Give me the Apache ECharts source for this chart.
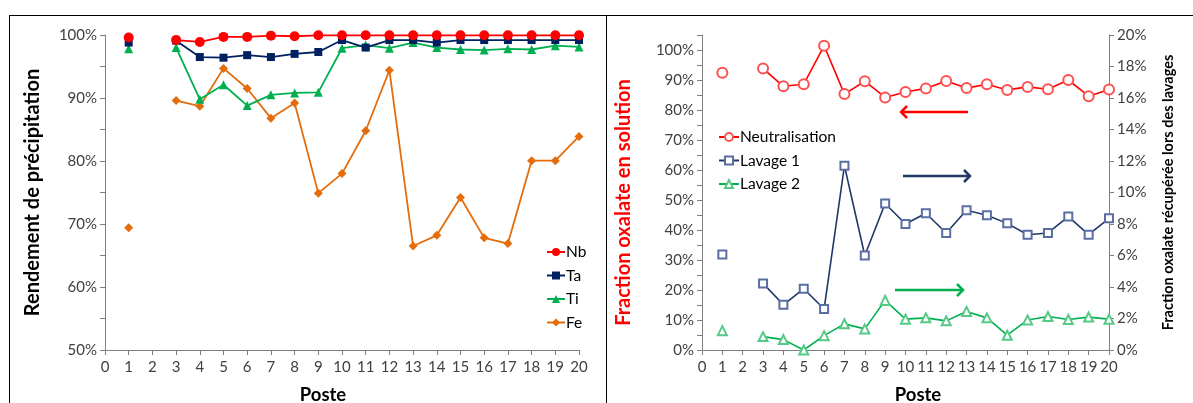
<!DOCTYPE html>
<html>
<head>
<meta charset="utf-8">
<script src="https://cdn.jsdelivr.net/npm/echarts@6/dist/echarts.min.js"></script>
<style>
html,body{margin:0;padding:0;background:#fff;}
#c{width:1193px;height:403px;}
</style>
</head>
<body>
<div id="c"></div>
<script>
const postes = [1,2,3,4,5,6,7,8,9,10,11,12,13,14,15,16,17,18,19,20];
const nb = [99.6, null, 99.2, 98.9, 99.7, 99.7, 99.9, 99.8, 99.95, 99.95, 99.95, 99.95, 99.95, 99.95, 99.95, 99.95, 99.95, 99.95, 99.95, 99.95];
const ta = [98.8, null, 99.1, 96.5, 96.4, 96.8, 96.5, 97.0, 97.3, 99.2, 98.0, 99.2, 99.2, 98.8, 99.2, 99.2, 99.2, 99.2, 99.2, 99.2];
const ti = [97.8, null, 98.0, 89.8, 92.1, 88.8, 90.5, 90.8, 90.9, 97.9, 98.4, 97.9, 98.8, 98.0, 97.7, 97.6, 97.8, 97.7, 98.3, 98.1];
const fe = [69.4, null, 89.6, 88.7, 94.7, 91.5, 86.8, 89.2, 74.9, 78.0, 84.8, 94.4, 66.5, 68.2, 74.2, 67.8, 66.9, 80.05, 80.05, 83.9];
const neutralisation = [92.4, null, 93.8, 87.9, 88.6, 101.4, 85.3, 89.6, 84.2, 86.0, 87.2, 89.7, 87.3, 88.6, 86.7, 87.7, 86.9, 90.0, 84.6, 86.8];
const lavage1 = [6.06, null, 4.23, 2.87, 3.89, 2.60, 11.7, 6.0, 9.3, 8.0, 8.68, 7.43, 8.87, 8.55, 8.04, 7.32, 7.43, 8.47, 7.32, 8.36];
const lavage2 = [1.23, null, 0.85, 0.66, 0, 0.91, 1.66, 1.34, 3.15, 1.96, 2.04, 1.85, 2.45, 2.04, 0.94, 1.91, 2.13, 1.94, 2.09, 1.96];

const FONT = 'Lato';
const TXT = '#404040';
const AX = '#7f7f7f';

function pairs(arr){ return postes.map((p,i)=>[p, arr[i]===null ? '-' : arr[i]]); }

const axisLine = {show:true, lineStyle:{color:AX, width:1}};
const axisTick = {show:true, inside:false, length:5, lineStyle:{color:AX}};
const lbl = {color:TXT, fontFamily:FONT, fontSize:15};

function xAx(gi, padding){
  return {
    type:'value', gridIndex:gi, min:0, max:20, interval:1,
    axisLine, axisTick, splitLine:{show:false},
    axisLabel:Object.assign({margin:10}, lbl),
    name:'Poste', nameLocation:'middle', nameGap:36,
    nameTextStyle:{color:'#000', fontFamily:FONT, fontSize:18.5, fontWeight:'bold', padding:padding}
  };
}

const chart = echarts.init(document.getElementById('c'), null, {renderer:'canvas'});
const option = {
  backgroundColor:'#fff',
  animation:false,
  grid:[
    {left:105, right:614, top:35, bottom:53, outerBoundsMode:'none', containLabel:false},
    {left:702, right:84, top:35, bottom:53, outerBoundsMode:'none', containLabel:false}
  ],
  xAxis:[ xAx(0,[0,38,0,0]), xAx(1,[0,0,0,25]) ],
  yAxis:[
    {
      type:'value', gridIndex:0, min:50, max:100, interval:5,
      axisLine, axisTick, splitLine:{show:false},
      axisLabel:Object.assign({margin:8, formatter:v => (v%10===0 ? v+'%' : '')}, lbl),
      name:'Rendement de précipitation', nameLocation:'middle', nameGap:62,
      nameTextStyle:{color:'#000', fontFamily:FONT, fontSize:20, fontWeight:'bold'}
    },
    {
      type:'value', gridIndex:1, min:0, max:105, interval:5, position:'left',
      axisLine, axisTick, splitLine:{show:false},
      axisLabel:Object.assign({margin:8, formatter:v => (v%10===0 ? v+'%' : '')}, lbl),
      name:'Fraction oxalate en solution', nameLocation:'middle', nameGap:68,
      nameTextStyle:{color:'#ff0000', fontFamily:FONT, fontSize:20, fontWeight:'bold', padding:[0,20,0,0]}
    },
    {
      type:'value', gridIndex:1, min:0, max:20, interval:2, position:'right',
      axisLine, axisTick, splitLine:{show:false},
      axisLabel:Object.assign({margin:8, formatter:v => v+'%'}, lbl),
      name:'Fraction oxalate récupérée lors des lavages', nameLocation:'middle', nameGap:52,
      nameTextStyle:{color:'#000', fontFamily:FONT, fontSize:14.5, fontWeight:'bold'}
    }
  ],
  legend:[
    {
      orient:'vertical', left:541, top:239, itemGap:7.5, itemWidth:18, itemHeight:10,
      textStyle:{color:'#000', fontFamily:FONT, fontSize:15.5, padding:[0,0,0,-4]},
      data:['Nb','Ta','Ti','Fe']
    },
    {
      orient:'vertical', left:713, top:124, itemGap:7.5, itemWidth:20, itemHeight:10,
      textStyle:{color:'#000', fontFamily:FONT, fontSize:15.5, padding:[0,0,0,-4]},
      data:['Neutralisation','Lavage 1','Lavage 2']
    }
  ],
  series:[
    {name:'Nb', type:'line', xAxisIndex:0, yAxisIndex:0, data:pairs(nb), symbol:'circle', symbolSize:10,
     lineStyle:{color:'#ff0000', width:1.8}, itemStyle:{color:'#ff0000'}, z:5},
    {name:'Ta', type:'line', xAxisIndex:0, yAxisIndex:0, data:pairs(ta), symbol:'rect', symbolSize:8,
     lineStyle:{color:'#002060', width:1.8}, itemStyle:{color:'#002060'}, z:4},
    {name:'Ti', type:'line', xAxisIndex:0, yAxisIndex:0, data:pairs(ti), symbol:'triangle', symbolSize:9,
     lineStyle:{color:'#00b050', width:1.8}, itemStyle:{color:'#00b050'}, z:3},
    {name:'Fe', type:'line', xAxisIndex:0, yAxisIndex:0, data:pairs(fe), symbol:'diamond', symbolSize:9,
     lineStyle:{color:'#e46c0a', width:1.8}, itemStyle:{color:'#e46c0a'}, z:2},
    {name:'Neutralisation', type:'line', xAxisIndex:1, yAxisIndex:1, data:pairs(neutralisation), symbol:'emptyCircle', symbolSize:10,
     lineStyle:{color:'#ff0000', width:1.6}, itemStyle:{color:'#ff5050', borderColor:'#ff5050', borderWidth:1.2}},
    {name:'Lavage 1', type:'line', xAxisIndex:1, yAxisIndex:2, data:pairs(lavage1), symbol:'emptyRect', symbolSize:8,
     lineStyle:{color:'#1f3868', width:1.6}, itemStyle:{color:'#5a6ea3', borderColor:'#5a6ea3', borderWidth:1.2}},
    {name:'Lavage 2', type:'line', xAxisIndex:1, yAxisIndex:2, data:pairs(lavage2), symbol:'emptyTriangle', symbolSize:9,
     lineStyle:{color:'#00b050', width:1.6}, itemStyle:{color:'#55c985', borderColor:'#55c985', borderWidth:1.2}}
  ],
  graphic:[
    {type:'line', shape:{x1:9, y1:15.5, x2:1193, y2:15.5}, style:{stroke:'#000', lineWidth:1}},
    {type:'line', shape:{x1:9.5, y1:15, x2:9.5, y2:403}, style:{stroke:'#000', lineWidth:1}},
    {type:'line', shape:{x1:606.5, y1:15, x2:606.5, y2:403}, style:{stroke:'#000', lineWidth:1}},
    {type:'line', shape:{x1:968, y1:112, x2:902, y2:112}, style:{stroke:'#ff0000', lineWidth:2.5}},
    {type:'polyline', shape:{points:[[907,106],[901,112],[907,118]]}, style:{stroke:'#ff0000', lineWidth:2.5, fill:null}},
    {type:'line', shape:{x1:903, y1:176, x2:969, y2:176}, style:{stroke:'#1f3868', lineWidth:2.5}},
    {type:'polyline', shape:{points:[[964,170],[970,176],[964,182]]}, style:{stroke:'#1f3868', lineWidth:2.5, fill:null}},
    {type:'line', shape:{x1:895, y1:290, x2:962, y2:290}, style:{stroke:'#00b050', lineWidth:2.5}},
    {type:'polyline', shape:{points:[[957,284],[963,290],[957,296]]}, style:{stroke:'#00b050', lineWidth:2.5, fill:null}}
  ]
};
chart.setOption(option);
</script>
</body>
</html>
